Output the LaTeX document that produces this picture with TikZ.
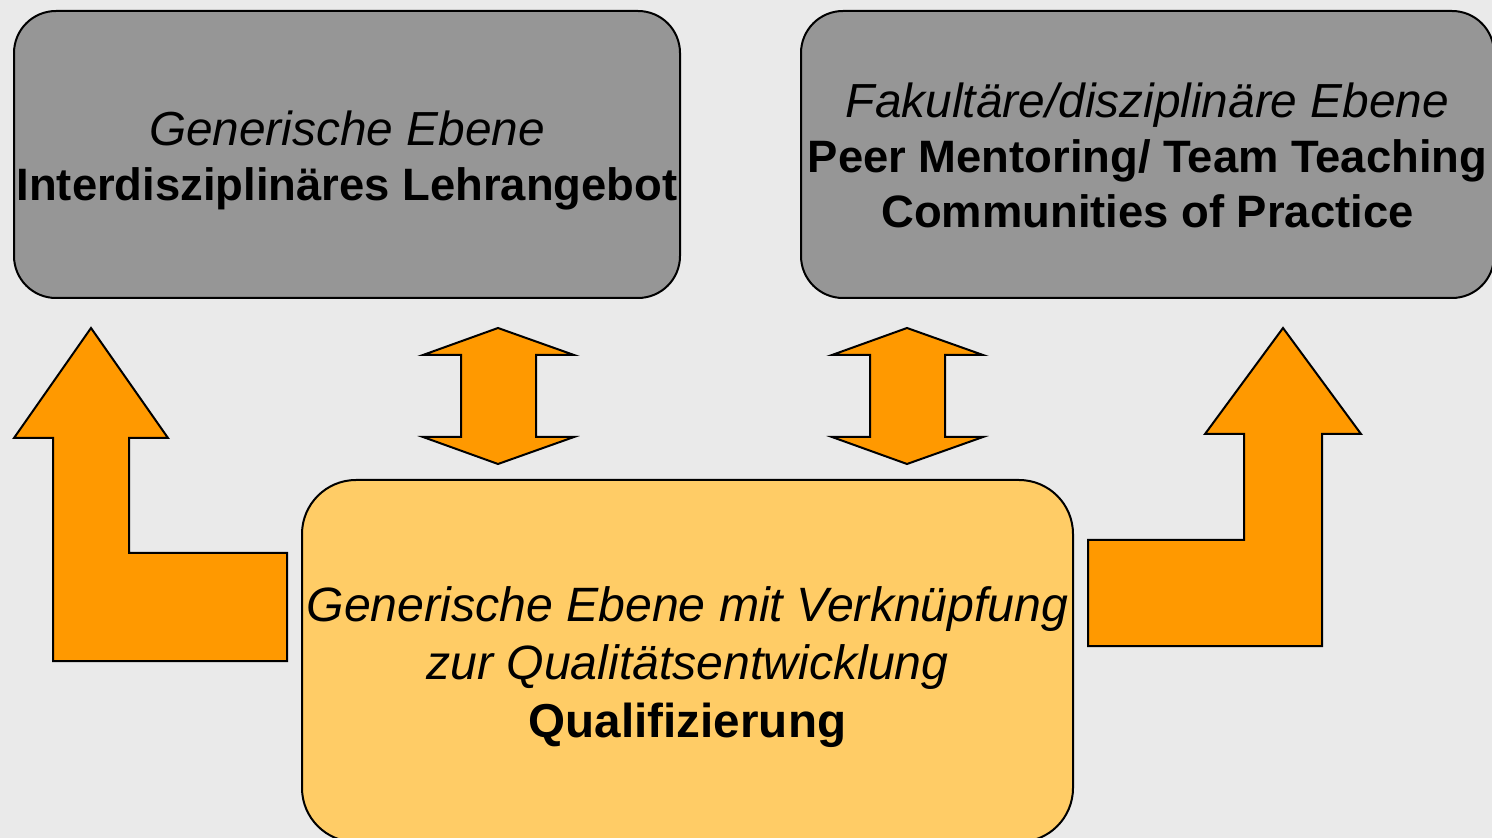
\documentclass[tikz,border=0pt]{standalone}
\usepackage{fontspec}
\setmainfont{Liberation Sans}
\definecolor{bg}{HTML}{EAEAEA}
\definecolor{boxgray}{HTML}{969696}
\definecolor{arroworange}{HTML}{FF9900}
\definecolor{lightorange}{HTML}{FFCC66}
\newcommand{\italline}[1]{{\fontsize{23.9}{27.3}\selectfont\itshape #1}}
\newcommand{\qualital}[1]{{\fontsize{24.1}{29}\selectfont\itshape #1}}
\begin{document}
\begin{tikzpicture}[x=0.5pt,y=-0.5pt,
  graybox/.style={draw=black, line width=1pt, fill=boxgray, rounded corners=21pt, inner sep=0pt},
  qualbox/.style={draw=black, line width=1pt, fill=lightorange, rounded corners=27pt, inner sep=0pt},
  graytext/.style={align=center, inner sep=0pt, font=\fontsize{22.7}{27.3}\selectfont},
  qualtext/.style={align=center, inner sep=0pt, font=\fontsize{23.8}{29}\selectfont},
  blockarrow/.style={draw=black, line width=1pt, fill=arroworange, line join=miter}]
\fill[bg] (0,0) rectangle (1492,838);
\useasboundingbox (0,0) rectangle (1492,838);
\begin{scope}
\clip (0,0) rectangle (1492,838);
\node[graybox, minimum width=333pt, minimum height=143.5pt] (gen) at (347,154.5) {};
\node[graytext] (gentext) at ([yshift=-3pt]gen.center)
  {\italline{Generische Ebene}\\{\bfseries Interdisziplinäres Lehrangebot}};
\node[graybox, minimum width=346.5pt, minimum height=143.5pt] (fak) at (1147.5,154.5) {};
\node[graytext] (faktext) at ([yshift=-0.5pt]fak.center)
  {\italline{Fakultäre/disziplinäre Ebene}\\{\bfseries Peer Mentoring/ Team Teaching}\\{\bfseries Communities of Practice}};
\node[qualbox, minimum width=385.5pt, minimum height=181pt] (qual) at (687.5,661) {};
\node[qualtext] (qualtext) at ([yshift=-3pt]qual.center)
  {\qualital{Generische Ebene mit Verknüpfung}\\\qualital{zur Qualitätsentwicklung}\\{\bfseries Qualifizierung}};
\end{scope}
% left L-shaped arrow
\draw[blockarrow] (91,328) -- (168,438) -- (129,438) -- (129,553) -- (287,553) -- (287,661)
  -- (53,661) -- (53,438) -- (14,438) -- cycle;
% right L-shaped arrow
\draw[blockarrow] (1283,328) -- (1361,434) -- (1322,434) -- (1322,646) -- (1088,646)
  -- (1088,540) -- (1244,540) -- (1244,434) -- (1205,434) -- cycle;
% double arrows
\draw[blockarrow] (498,328) -- (574,355) -- (536,355) -- (536,437) -- (574,437) -- (498,464)
  -- (423,437) -- (461,437) -- (461,355) -- (423,355) -- cycle;
\draw[blockarrow] (907,328) -- (983,355) -- (945,355) -- (945,437) -- (983,437) -- (907,464)
  -- (832,437) -- (870,437) -- (870,355) -- (832,355) -- cycle;
\end{tikzpicture}
\end{document}
